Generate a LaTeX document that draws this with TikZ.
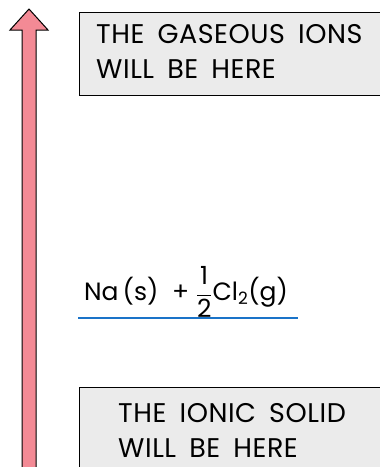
\documentclass[tikz,border=0pt]{standalone}
\usepackage{fontspec}
\setmainfont{Poppins}
\newfontfamily\notefont{Poppins}[LetterSpace=2.0, WordSpace=1.7]
\usetikzlibrary{positioning,calc}

\definecolor{notegray}{HTML}{EBEBEB}
\definecolor{uparrow}{HTML}{F38A95}
\definecolor{levelblue}{HTML}{1A73C8}

\begin{document}
\begin{tikzpicture}[
  x=1pt, y=-1pt,
  notebox/.style = {draw, line width=0.9pt, fill=notegray},
  note/.style    = {anchor=north west, align=left, inner sep=0pt,
                    font=\notefont\fontsize{27}{35}\selectfont},
  eqn/.style     = {inner sep=0pt, font=\fontsize{25}{29}\selectfont},
  level/.style   = {draw=levelblue, line width=2pt},
  uparr/.style   = {draw, line width=1pt, fill=uparrow, line join=miter},
]

%% ==== frame, same size as the reference ===================================
\useasboundingbox (0,0) rectangle (380,467);
\clip (0,0) rectangle (380,467);

%% ==== the energy axis =====================================================
\draw[uparr] (29,9) -- (48,30) -- (36,30) -- (36,480)
  -- (22,480) -- (22,30) -- (10,30) -- cycle;

%% ==== upper and lower boxes ===============================================
\draw[notebox] (79,12) rectangle (395,95);
\node[note] (gas) at (96,24) {THE GASEOUS IONS\\WILL BE HERE};

\draw[notebox] (79,387) rectangle (395,480);
\node[note] (solid) at (118,403) {THE IONIC SOLID\\WILL BE HERE};

%% ==== the elements level ==================================================
\node[eqn] (elem) at (186,292)
  {Na\,(s)\; + $\displaystyle\frac{\mbox{1}}{\mbox{2}}$Cl$_{\mbox{\fontsize{17}{17}\selectfont 2}}$(g)};
\coordinate (lvlL) at (78,318);
\coordinate (lvlR) at (298,318);
\draw[level] (lvlL) -- (lvlR);

\end{tikzpicture}
\end{document}
